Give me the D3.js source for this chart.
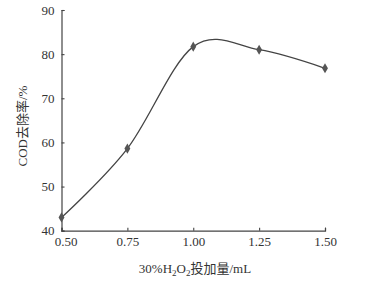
<!DOCTYPE html>
<html>
<head>
<meta charset="utf-8">
<script src="https://d3js.org/d3.v7.min.js"></script>
<style>
  body { margin: 0; background: #fff; }
  text { font-family: "Liberation Serif", "Noto Sans CJK SC", serif; fill: #333; }
</style>
</head>
<body>
<div class="grafico"></div>
<script>
var dosis = [0.50, 0.75, 1.00, 1.25, 1.50];
var remocion = [43.0, 58.6, 81.7, 81.0, 76.8];
var ticksX = [0.50, 0.75, 1.00, 1.25, 1.50];
var ticksY = [40, 50, 60, 70, 80, 90];

var svg = d3.select('.grafico')
  .append('svg')
  .attr('width', 370)
  .attr('height', 284);

const xScale = d3.scaleLinear()
  .domain([0.5, 1.5])
  .range([61.5, 325]);

const yScale = d3.scaleLinear()
  .domain([40, 90])
  .range([230.7, 10]);

const xAxis = d3.axisBottom(xScale)
  .tickValues(ticksX)
  .tickSize(-3)
  .tickPadding(6)
  .tickFormat(d3.format('.2f'));

const yAxis = d3.axisLeft(yScale)
  .tickValues(ticksY)
  .tickSize(-3)
  .tickPadding(7);

var gx = svg.append('g')
  .attr('transform', 'translate(0, 230.7)')
  .call(xAxis);

var gy = svg.append('g')
  .attr('transform', 'translate(61.5, 0)')
  .call(yAxis);

[gx, gy].forEach(function (g) {
  g.select('.domain').attr('stroke', '#444').attr('stroke-width', 1.2);
  g.selectAll('.tick line').attr('stroke', '#444').attr('stroke-width', 1.1);
  g.selectAll('.tick text')
    .attr('font-size', 13)
    .attr('font-family', 'Liberation Serif')
    .attr('fill', '#444');
});

// la primera etiqueta del eje x va corrida a la derecha, como en el original
gx.selectAll('.tick text')
  .filter(function (d) { return d === 0.5; })
  .attr('dx', 4);

var linea = d3.line()
  .x(function (d, i) { return xScale(dosis[i]); })
  .y(function (d) { return yScale(d); })
  .curve(d3.curveCatmullRom.alpha(0));

svg.append('path')
  .datum(remocion)
  .attr('d', linea)
  .attr('fill', 'none')
  .attr('stroke', '#444')
  .attr('stroke-width', 1.3);

svg.append('g')
  .selectAll('path')
  .data(remocion)
  .enter()
  .append('path')
  .attr('d', d3.symbol().type(d3.symbolDiamond).size(30))
  .attr('transform', function (d, i) {
    return 'translate(' + xScale(dosis[i]) + ',' + yScale(d) + ')';
  })
  .attr('fill', '#555');

var etiquetaX = svg.append('text')
  .attr('x', 195)
  .attr('y', 273)
  .attr('text-anchor', 'middle')
  .attr('font-size', 13)
  .attr('fill', '#444');
etiquetaX.append('tspan').text('30%H');
etiquetaX.append('tspan').attr('font-size', 9).attr('dy', 3).text('2');
etiquetaX.append('tspan').attr('dy', -3).text('O');
etiquetaX.append('tspan').attr('font-size', 9).attr('dy', 3).text('2');
etiquetaX.append('tspan').attr('dy', -3).text('投加量/mL');

svg.append('text')
  .attr('transform', 'translate(27, 126) rotate(-90)')
  .attr('text-anchor', 'middle')
  .attr('font-size', 13)
  .attr('fill', '#444')
  .text('COD去除率/%');
</script>
</body>
</html>
